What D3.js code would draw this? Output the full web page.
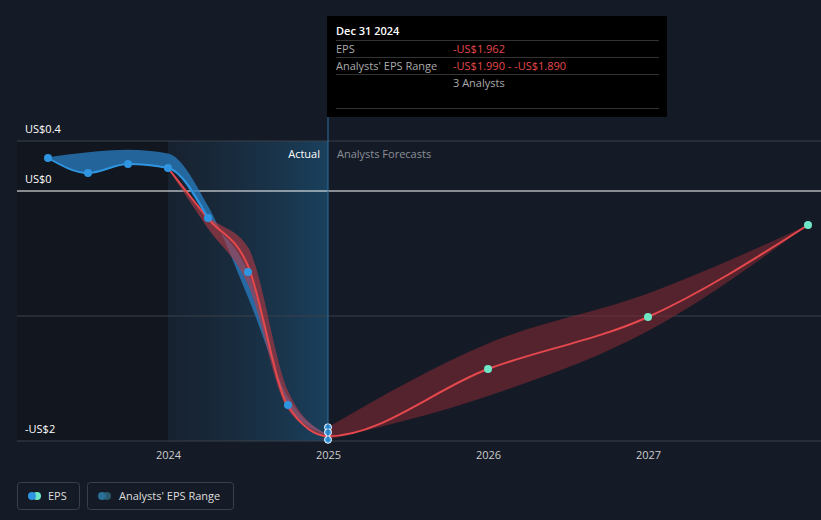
<!DOCTYPE html>
<html><head><meta charset="utf-8">
<script src="https://cdn.jsdelivr.net/npm/d3@7"></script>
<style>
body{margin:0;background:#151b26;font-family:"Open Sans",Arial,sans-serif;}
</style></head>
<body><svg id="c" width="821" height="520"></svg>
<script>
const actualDates = [2023.25, 2023.5, 2023.75, 2024.0, 2024.25, 2024.5, 2024.75, 2025.0];
const actualEps = [0.264, 0.144, 0.216, 0.184, -0.216, -0.648, -1.712, -1.955];
const actualHigh = [0.27, 0.31, 0.33, 0.30, -0.12, -0.85, -1.65, -1.95];
const pastFcDates = [2024.0, 2024.25, 2024.5, 2024.75, 2025.0];
const pastFcHigh = [0.18, -0.2, -0.45, -1.6, -1.95];
const pastFcLow = [0.18, -0.3, -0.75, -1.75, -1.97];
const fcDates = [2025.0, 2026.0, 2027.0, 2028.0];
const fcEps = [-1.962, -1.424, -1.008, -0.272];
const fcHigh = [-1.89, -1.22, -0.82, -0.272];
const fcLow = [-1.99, -1.64, -1.12, -0.272];
const extraMarks = [-1.89, -1.93, -1.99];
const yTicks = [0.4, 0, -2];
const yTickLabels = ['US$0.4', 'US$0', '-US$2'];
const xTicks = [2024, 2025, 2026, 2027];

const svg = d3.select('#c');
const x = d3.scaleLinear().domain([2024, 2025]).range([168, 328]);
const y = d3.scaleLinear().domain([0, -2]).range([191, 441]);
const left = 17, right = 805;

const defs = svg.append('defs');
const g1 = defs.append('linearGradient').attr('id', 'act').attr('x1', 0).attr('x2', 1);
g1.append('stop').attr('offset', 0).attr('stop-color', '#1b3146').attr('stop-opacity', 0.3);
g1.append('stop').attr('offset', 1).attr('stop-color', '#1b4a6b').attr('stop-opacity', 0.8);

svg.append('rect').attr('x', left).attr('y', y(0.4)).attr('width', x(2024) - left).attr('height', y(-2) - y(0.4)).attr('fill', '#12161e');
svg.append('rect').attr('x', x(2024)).attr('y', y(0.4)).attr('width', x(2025) - x(2024)).attr('height', y(-2) - y(0.4)).attr('fill', 'url(#act)');

// grid
[0.4, -1].forEach(v => svg.append('line').attr('x1', left).attr('x2', right + 16).attr('y1', y(v)).attr('y2', y(v)).attr('stroke', '#3a404a').attr('stroke-width', 1));
svg.append('line').attr('x1', left).attr('x2', right + 16).attr('y1', y(0)).attr('y2', y(0)).attr('stroke', '#ffffff').attr('stroke-width', 1);
svg.append('line').attr('x1', left).attr('x2', right + 16).attr('y1', y(-2)).attr('y2', y(-2)).attr('stroke', '#3a404a');

yTicks.forEach((v, i) => svg.append('text').attr('x', 25).attr('y', y(v) - 8).attr('fill', '#fff').attr('font-size', 11).text(yTickLabels[i]));

const xAxis = svg.append('g').attr('transform', `translate(0,${y(-2)})`)
  .call(d3.axisBottom(x).tickValues(xTicks).tickFormat(d3.format('d')).tickSize(0).tickPadding(10));
xAxis.select('.domain').remove();
xAxis.selectAll('text').attr('fill', '#ccc').attr('font-size', 11).attr('font-family', 'Open Sans');

const curve = d3.curveMonotoneX;
const area = (dates, hi, lo) => d3.area().curve(curve).x((d, i) => x(dates[i])).y0((d, i) => y(lo[i])).y1((d, i) => y(hi[i]))(dates);
const line = (dates, vals) => d3.line().curve(curve).x((d, i) => x(dates[i])).y((d, i) => y(vals[i]))(dates);

svg.append('path').attr('d', area(actualDates, actualHigh, actualEps)).attr('fill', '#2a7fc4').attr('opacity', 0.75);
svg.append('path').attr('d', area(pastFcDates, pastFcHigh, pastFcLow)).attr('fill', '#b83a44').attr('opacity', 0.6);
svg.append('path').attr('d', area(fcDates, fcHigh, fcLow)).attr('fill', '#8a2a33').attr('opacity', 0.55);

svg.append('path').attr('d', line(pastFcDates.concat(fcDates.slice(1)), [0.184, -0.22, -0.6, -1.72, -1.962].concat(fcEps.slice(1))))
  .attr('fill', 'none').attr('stroke', '#e5484d').attr('stroke-width', 2);
svg.append('path').attr('d', line(actualDates.slice(0, 5), actualEps.slice(0, 5))).attr('fill', 'none').attr('stroke', '#2f95e0').attr('stroke-width', 2);

actualDates.slice(0, 7).forEach((d, i) => svg.append('circle').attr('cx', x(d)).attr('cy', y(actualEps[i])).attr('r', 4).attr('fill', '#2f95e0'));
extraMarks.forEach(v => svg.append('circle').attr('cx', x(2025)).attr('cy', y(v)).attr('r', 3.5).attr('fill', '#2f95e0').attr('stroke', '#fff').attr('stroke-width', 1));
fcDates.slice(1).forEach((d, i) => svg.append('circle').attr('cx', x(d)).attr('cy', y(fcEps[i + 1])).attr('r', 4).attr('fill', '#6ee7c7'));

svg.append('line').attr('x1', x(2025)).attr('x2', x(2025)).attr('y1', 117).attr('y2', y(-2)).attr('stroke', '#2c6f9c');
svg.append('text').attr('x', x(2025) - 8).attr('y', 158).attr('text-anchor', 'end').attr('fill', '#fff').attr('font-size', 11).text('Actual');
svg.append('text').attr('x', x(2025) + 9).attr('y', 158).attr('fill', '#8a8f98').attr('font-size', 11).text('Analysts Forecasts');

// tooltip
const tt = svg.append('g').attr('transform', 'translate(327,16)');
tt.append('rect').attr('width', 340).attr('height', 101).attr('fill', '#000');
tt.append('text').attr('x', 9).attr('y', 19).attr('fill', '#fff').attr('font-size', 11).attr('font-weight', 600).text('Dec 31 2024');
[24, 41, 58, 92].forEach(v => tt.append('line').attr('x1', 9).attr('x2', 332).attr('y1', v + 0.5).attr('y2', v + 0.5).attr('stroke', '#333'));
tt.append('text').attr('x', 9).attr('y', 37).attr('fill', '#aaa').attr('font-size', 11).text('EPS');
tt.append('text').attr('x', 126).attr('y', 37).attr('fill', '#e5484d').attr('font-size', 11).text('-US$1.962');
tt.append('text').attr('x', 9).attr('y', 54).attr('fill', '#aaa').attr('font-size', 11).text("Analysts' EPS Range");
tt.append('text').attr('x', 126).attr('y', 54).attr('fill', '#e5484d').attr('font-size', 11).text('-US$1.990 - -US$1.890');
tt.append('text').attr('x', 126).attr('y', 71).attr('fill', '#aaa').attr('font-size', 11).text('3 Analysts');

// legend
const lg = svg.append('g');
lg.append('rect').attr('x', 17.5).attr('y', 482.5).attr('width', 62).attr('height', 27).attr('rx', 3).attr('fill', 'none').attr('stroke', '#3a404a');
lg.append('circle').attr('cx', 37).attr('cy', 496).attr('r', 4).attr('fill', '#6ee7c7');
lg.append('circle').attr('cx', 32).attr('cy', 496).attr('r', 4).attr('fill', '#2f95e0');
lg.append('text').attr('x', 48).attr('y', 500).attr('fill', '#ddd').attr('font-size', 11).text('EPS');
lg.append('rect').attr('x', 87.5).attr('y', 482.5).attr('width', 146).attr('height', 27).attr('rx', 3).attr('fill', 'none').attr('stroke', '#3a404a');
lg.append('circle').attr('cx', 107).attr('cy', 496).attr('r', 4).attr('fill', '#2a5a6a');
lg.append('circle').attr('cx', 102).attr('cy', 496).attr('r', 4).attr('fill', '#2a6f96');
lg.append('text').attr('x', 119).attr('y', 500).attr('fill', '#ddd').attr('font-size', 11).text("Analysts' EPS Range");
</script></body></html>
